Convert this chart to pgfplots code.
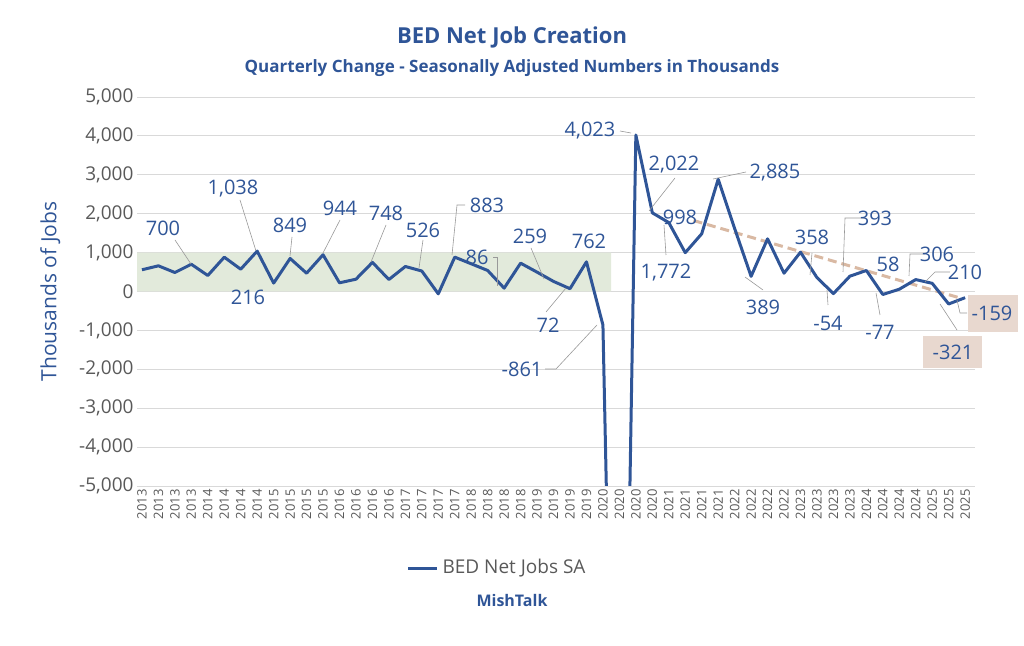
\documentclass[border=0pt]{standalone}
\usepackage{pgfplots}
\pgfplotsset{compat=1.18}
\usepackage{fontspec}
\setmainfont{Open Sans}
\definecolor{mb}{HTML}{2F5597}
\definecolor{tg}{HTML}{595959}
\definecolor{band}{HTML}{E2EADB}
\definecolor{beige}{HTML}{E8D8CF}
\definecolor{trend}{HTML}{D9B9A3}
\newcommand{\LB}[3]{\node[lb] at (#1,645-#2) {#3};}
\begin{document}
\begin{tikzpicture}[x=1pt,y=1pt]
\path (0,0) rectangle (1024,645);
\begin{axis}[at={(137pt,159pt)},anchor=south west,scale only axis,width=838pt,height=389pt,
 xmin=-0.3,xmax=50.6,ymin=-5000,ymax=5000,
 axis line style={draw=none},tick style={draw=none},
 ymajorgrids,grid style={draw=black!15,line width=0.8pt},
 ytick={-5000,-4000,...,5000},
 /pgf/number format/assume math mode=true,
 yticklabel style={font=\fontsize{19}{20}\selectfont,text=tg},
 scaled y ticks=false,
 xtick={0,...,50},
 xticklabels={2013,2013,2013,2013,2014,2014,2014,2014,2015,2015,2015,2015,2016,2016,2016,2016,2017,2017,2017,2017,2018,2018,2018,2018,2019,2019,2019,2019,2020,2020,2020,2020,2021,2021,2021,2021,2022,2022,2022,2022,2023,2023,2023,2023,2024,2024,2024,2024,2025,2025,2025},
 xticklabel style={rotate=90,anchor=east,font=\fontsize{13}{13}\selectfont,text=tg},
 ylabel={Thousands of Jobs},ylabel style={font=\fontsize{21}{22}\selectfont,text=mb,yshift=12pt},
]
\addplot[fill=band,draw=none] coordinates {(-0.3,0)(28.5,0)(28.5,1000)(-0.3,1000)} \closedcycle;
\addplot[trend,dashed,line width=3pt,dash pattern=on 9pt off 5pt] coordinates {(33.5,1825)(49.8,-180)};
\addplot[mb,line width=3pt,line join=round] coordinates {
(0,558)(1,660)(2,488)(3,700)(4,411)(5,882)(6,573)(7,1038)(8,216)(9,849)
(10,470)(11,944)(12,223)(13,316)(14,748)(15,308)(16,643)(17,526)(18,-60)(19,883)
(20,712)(21,540)(22,86)(23,728)(24,497)(25,259)(26,72)(27,762)(28,-861)(29,-21000)
(30,4023)(31,2022)(32,1772)(33,998)(34,1483)(35,2885)(36,1620)(37,389)(38,1354)(39,470)
(40,1010)(41,358)(42,-54)(43,393)(44,540)(45,-77)(46,58)(47,306)(48,210)(49,-321)(50,-159)};
\end{axis}
\tikzset{lb/.style={text=mb,font=\fontsize{20}{21}\selectfont},ld/.style={draw=black!40,line width=0.6pt}}
\draw[ld] (175,645-240)--(191,645-264);
\draw[ld] (240,645-200)--(256,645-251);
\draw[ld] (292,645-237)--(290,645-256);
\draw[ld] (340,645-220)--(323,645-253);
\draw[ld] (386,645-225)--(371,645-262);
\draw[ld] (423,645-240)--(419,645-268);
\draw[ld] (465,645-205)--(457,645-205)--(452,645-255);
\draw[ld] (493,645-257)--(497,645-257)--(497,645-286);
\draw[ld] (531,645-248)--(544,645-279);
\draw[ld] (546,645-312)--(566,645-288);
\draw[ld] (545,645-369)--(556,645-369)--(597,645-325);
\draw[ld] (620,645-131)--(631,645-133);
\draw[ld] (675,645-178)--(649,645-211);
\draw[ld] (666,645-255)--(664,645-225);
\draw[ld] (746,645-172)--(713,645-179);
\draw[ld] (763,645-290)--(745,645-277);
\draw[ld] (812,645-253)--(810,645-275);
\draw[ld] (828,645-305)--(827,645-290);
\draw[ld] (866,645-218)--(845,645-218)--(843,645-272);
\draw[ld] (880,645-315)--(876,645-293);
\draw[ld] (925,645-254)--(910,645-254)--(909,645-276);
\draw[ld] (950,645-272)--(935,645-272)--(925,645-282);
\draw[ld] (967,645-313)--(960,645-313)--(957,645-300);
\draw[ld] (957,645-330)--(940,645-304);
\fill[beige] (968,645-332) rectangle (1018,645-295);
\fill[beige] (923,645-368) rectangle (982,645-336);
\LB{163}{228}{700}\LB{233}{189}{1,038}\LB{290}{225}{849}\LB{340}{208}{944}
\LB{386}{213}{748}\LB{423}{230}{526}\LB{487}{205}{883}\LB{477}{257}{86}
\LB{530}{236}{259}\LB{589}{241}{762}\LB{248}{297}{216}\LB{548}{325}{72}
\LB{522}{369}{-861}\LB{590}{131}{4,023}\LB{674}{165}{2,022}\LB{680}{217}{998}
\LB{666}{273}{1,772}\LB{775}{173}{2,885}\LB{763}{307}{389}\LB{812}{237}{358}
\LB{828}{323}{-54}\LB{875}{218}{393}\LB{880}{332}{-77}\LB{888}{264}{58}
\LB{937}{254}{306}\LB{965}{272}{210}\LB{992}{313}{-159}\LB{953}{352}{-321}
\node[text=mb,font=\bfseries\fontsize{22}{26}\selectfont] at (512,645-37) {BED Net Job Creation};
\node[text=mb,font=\bfseries\fontsize{17}{20}\selectfont] at (512,645-68) {Quarterly Change - Seasonally Adjusted Numbers in Thousands};
\draw[mb,line width=3pt] (408,645-568)--(437,645-568);
\node[anchor=west,text=tg,font=\fontsize{19}{22}\selectfont] at (439,645-568) {BED Net Jobs SA};
\node[text=mb,font=\bfseries\fontsize{16}{18}\selectfont] at (512,645-600) {MishTalk};
\end{tikzpicture}
\end{document}
